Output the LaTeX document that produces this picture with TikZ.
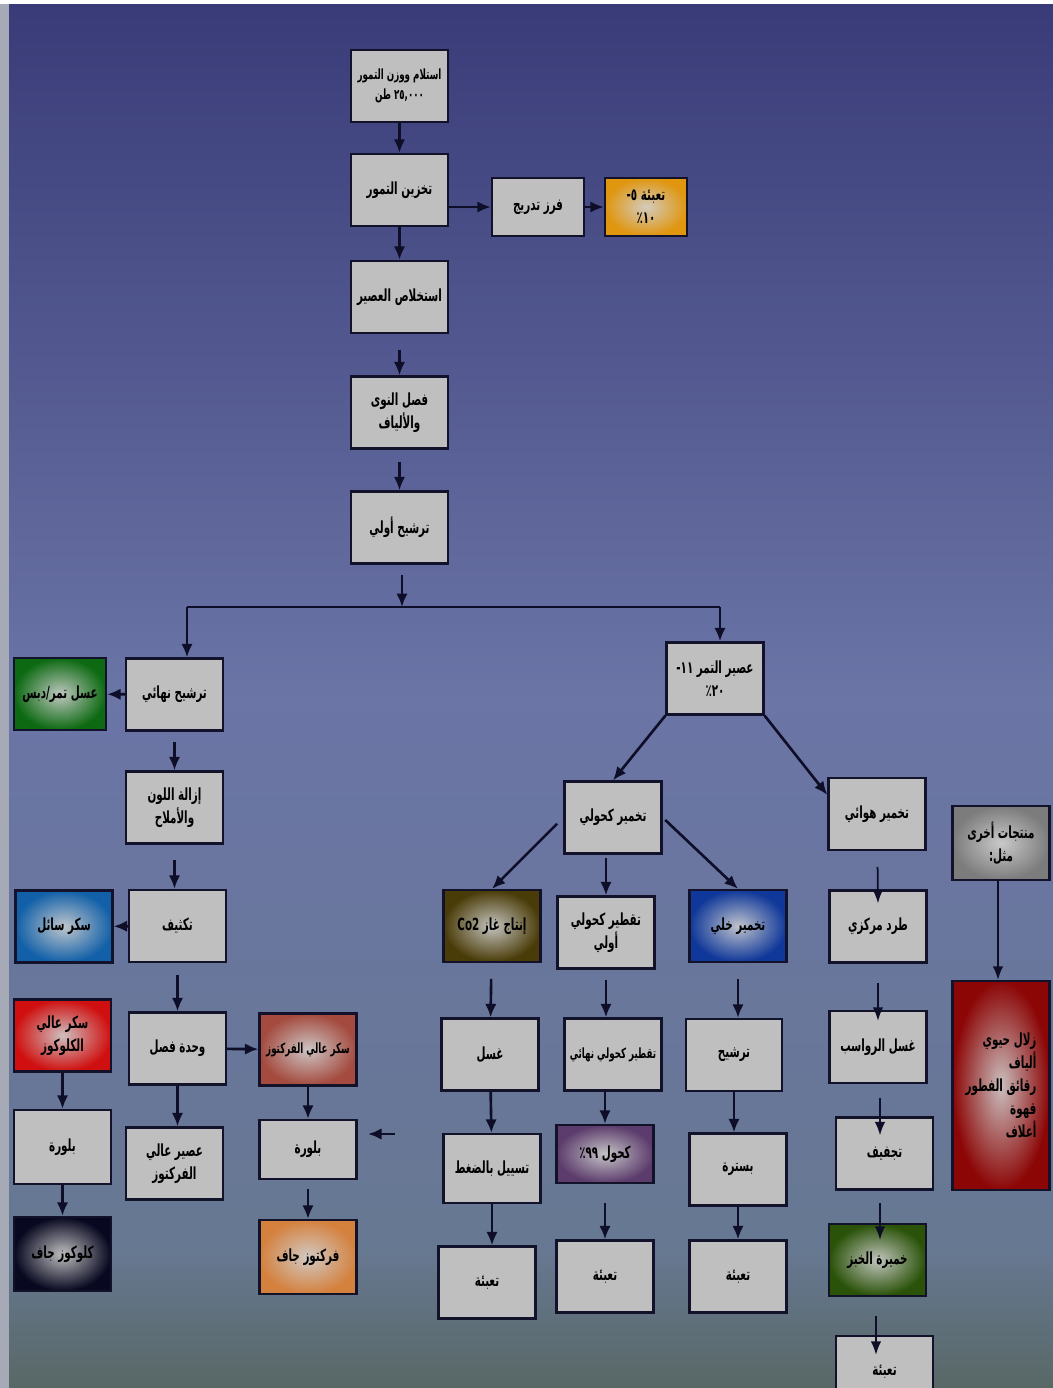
\documentclass[tikz,border=0pt]{standalone}
\usepackage{fontspec}
\usetikzlibrary{arrows.meta}
\newfontfamily\arabicfont[Script=Arabic,FakeStretch=0.62]{DejaVu Sans}
\TeXXeTstate=1
\newcommand{\ar}[1]{\beginR #1\endR}
\definecolor{bgtop}{HTML}{393B78}
\definecolor{bgmid}{HTML}{6B75A6}
\definecolor{bglow}{HTML}{677892}
\definecolor{bgend}{HTML}{586866}
\definecolor{stripc}{HTML}{A6AAB6}
\definecolor{boxc}{HTML}{BFBFBF}
\definecolor{edgec}{HTML}{12122A}
\definecolor{linec}{HTML}{0E0E28}
\definecolor{orangec}{HTML}{E0960F}
\definecolor{greenc}{HTML}{0D6A12}
\definecolor{bluec}{HTML}{1260A8}
\definecolor{redc}{HTML}{D01010}
\definecolor{darkc}{HTML}{080820}
\definecolor{rustc}{HTML}{A44A3E}
\definecolor{peachc}{HTML}{D4813E}
\definecolor{olivec}{HTML}{4A3C08}
\definecolor{navyc}{HTML}{10389A}
\definecolor{purplec}{HTML}{5C3C6C}
\definecolor{mossc}{HTML}{2A5208}
\definecolor{greyc}{HTML}{7C7C7C}
\definecolor{wine}{HTML}{8C0606}
\begin{document}
\begin{tikzpicture}[x=0.2mm,y=-0.2mm,
  box/.style={draw=edgec,line width=1.3pt,fill=boxc,minimum width=19.4mm,minimum height=14.4mm,
    inner sep=1pt,align=center,font=\arabicfont\bfseries\fontsize{9.5}{13}\selectfont},
  tint/.style={box,shading=radial,inner color=#1!12!boxc!75!white,outer color=#1},
  small/.style={font=\arabicfont\bfseries\fontsize{8}{11}\selectfont},
  flow/.style={-{Latex[length=2.7mm,width=2.3mm]},line width=1.5pt,draw=linec},
  slim/.style={-{Latex[length=2.7mm,width=2.1mm]},line width=1pt,draw=linec},
  link/.style={line width=1.5pt,draw=linec}]
\useasboundingbox (0,0) rectangle (1053,1388);
\shade[top color=bgtop,bottom color=bgmid] (0,0) rectangle (1053,700);
\shade[top color=bgmid,bottom color=bglow] (0,699) rectangle (1053,1250);
\shade[top color=bglow,bottom color=bgend] (0,1249) rectangle (1053,1388);
\fill[stripc] (0,0) rectangle (9,1388);
\fill[white] (0,0) rectangle (1053,4);

% main trunk
\node[box,small] (B1) at (399.5,86) {\ar{استلام ووزن التمور}\\\ar{٢٥,٠٠٠ طن}};
\node[box] (B2) at (399.5,190) {\ar{تخزين التمور}};
\node[box,minimum width=18.4mm,minimum height=11.6mm] (B3) at (538,207) {\ar{فرز تدريج}};
\node[tint=orangec,minimum width=16.4mm,minimum height=11.6mm] (B4) at (646,207) {\ar{تعبئة ٥-}\\\ar{١٠٪}};
\node[box] (B5) at (399.5,297) {\ar{استخلاص العصير}};
\node[box] (B6) at (399.5,412.5) {\ar{فصل النوى}\\\ar{والألياف}};
\node[box] (B7) at (399.5,527.5) {\ar{ترشيح أولي}};
\coordinate (J) at (402,607);
\coordinate (JL) at (187,607);
\coordinate (JR) at (720,607);

% syrup branch
\node[box] (L1) at (174.5,694.5) {\ar{ترشيح نهائي}};
\node[tint=greenc,minimum width=18.4mm] (L1g) at (60,694) {\ar{عسل تمر/دبس}};
\node[box] (L2) at (174.5,807.5) {\ar{إزالة اللون}\\\ar{والأملاح}};
\node[box] (L3) at (177.5,926) {\ar{تكثيف}};
\node[tint=bluec] (L3b) at (64,926.5) {\ar{سكر سائل}};
\node[box] (L4) at (177.5,1048.5) {\ar{وحدة فصل}};
\node[box] (L5) at (174.5,1163.5) {\ar{عصير عالي}\\\ar{الفركتوز}};
\node[tint=redc] (G1) at (62.5,1035.5) {\ar{سكر عالي}\\\ar{الكلوكوز}};
\node[box,minimum height=14.8mm] (G2) at (62.5,1147) {\ar{بلورة}};
\node[tint=darkc,minimum height=14.8mm] (G3) at (62.5,1254) {\ar{كلوكوز جاف}};
\node[tint=rustc,small] (F1) at (308,1049.5) {\ar{سكر عالي الفركتوز}};
\node[box,minimum height=11.8mm] (F2) at (308,1149.5) {\ar{بلورة}};
\node[tint=peachc,minimum height=14.8mm] (F3) at (308,1257) {\ar{فركتوز جاف}};
\coordinate (Fin) at (395,1134);
\coordinate (Fout) at (368,1134);

% juice branch
\node[box] (R1) at (715,678.5) {\ar{عصير التمر ١١-}\\\ar{٢٠٪}};
\node[box] (A1) at (613,817.5) {\ar{تخمير كحولي}};
\node[box] (H1) at (877,814) {\ar{تخمير هوائي}};
\node[tint=olivec] (C1) at (492,926) {\ar{إنتاج غاز \beginL Co2\endL}};
\node[box] (C2) at (606,932.5) {\ar{تقطير كحولي}\\\ar{أولي}};
\node[tint=navyc] (C3) at (738,926) {\ar{تخمير خلي}};
\node[box] (D1) at (490,1054.5) {\ar{غسل}};
\node[box,small] (D2) at (613,1054.5) {\ar{تقطير كحولي نهائي}};
\node[box,minimum width=19.2mm] (D3) at (734,1055) {\ar{ترشيح}};
\node[box,minimum height=13.8mm] (E1) at (492,1168.5) {\ar{تسييل بالضغط}};
\node[tint=purplec,minimum height=11.6mm] (E2) at (605,1154) {\ar{كحول ٩٩٪}};
\node[box] (E3) at (738,1169.5) {\ar{بسترة}};
\node[box] (P1) at (487,1282.5) {\ar{تعبئة}};
\node[box] (P2) at (605,1276.5) {\ar{تعبئة}};
\node[box] (P3) at (738,1276.5) {\ar{تعبئة}};
\node[box] (H2) at (878,926.5) {\ar{طرد مركزي}};
\node[box] (H3) at (878,1047) {\ar{غسل الرواسب}};
\node[box] (H4) at (884.5,1153.5) {\ar{تجفيف}};
\node[tint=mossc] (H5) at (877.5,1260) {\ar{خميرة الخبز}};
\node[box] (H6) at (884.5,1372) {\ar{تعبئة}};
\node[tint=greyc,minimum height=14.8mm] (O1) at (1001,843) {\ar{منتجات أخرى}\\\ar{مثل:}};
\node[tint=wine,minimum height=41.8mm,align=right] (O2) at (1001,1085.5)
  {\ar{زلال حيوي}\\\ar{ألياف}\\\ar{رقائق الفطور}\\\ar{قهوة}\\\ar{أعلاف}};

% trunk arrows
\draw[flow] (B1) -- (B2);
\draw[flow] (B2.east |- B3.west) -- (B3.west);
\draw[flow] (B3) -- (B4);
\draw[flow] (B2) -- (B5);
\draw[flow,shorten <=9pt] (B5) -- (B6);
\draw[flow,shorten <=7pt] (B6) -- (B7);
\draw[flow,shorten <=6pt] (B7.south -| J) -- (J);
\draw[link] (JL) -- (JR);
\draw[flow] (JL) -- (JL |- L1.north);
\draw[flow] (JR) -- (JR |- R1.north);

% syrup arrows
\draw[flow] (L1) -- (L1g);
\draw[flow,shorten <=6pt] (L1.south) -- (L1.south |- L2.north);
\draw[flow,shorten <=9pt] (L2.south) -- (L2.south |- L3.north);
\draw[flow] (L3) -- (L3b);
\draw[flow,shorten <=7pt] (L3) -- (L4);
\draw[flow] (L4) -- (F1);
\draw[flow] (L4.south) -- (L4.south |- L5.north);
\draw[flow] (G1) -- (G2);
\draw[flow] (G2) -- (G3);
\draw[flow] (F1) -- (F2);
\draw[flow,shorten <=5pt] (F2) -- (F3);
\draw[flow] (Fin) -- (Fout);

% juice arrows
\draw[flow] (R1.south west) -- (A1.north);
\draw[flow] (R1.south east) -- (H1.159);
\draw[flow,shorten <=5pt] (A1.west) -- (C1.north);
\draw[flow,shorten <=2pt] (A1.south -| C2.north) -- (C2.north);
\draw[flow,shorten <=2pt] (A1.east) -- (C3.north);
\draw[flow,shorten <=9pt] (C1) -- (D1);
\draw[flow,shorten <=6pt] (C2.south) -- (C2.south |- D2.north);
\draw[flow,shorten <=9pt] (C3.south) -- (C3.south |- D3.north);
\draw[flow] (D1) -- (E1);
\draw[flow] (D2.south -| E2) -- (E2);
\draw[flow] (D3.south) -- (D3.south |- E3.north);
\draw[flow] (E1.south) -- (E1.south |- P1.north);
\draw[flow,shorten <=11pt] (E2) -- (P2);
\draw[flow] (E3) -- (P3);
\draw[slim,shorten <=9pt] (H1) -- ([yshift=-2.8mm]H2.north);
\draw[slim,shorten <=11pt] (H2.south -| H3) -- ([yshift=-2.2mm]H3.north);
\draw[slim,shorten <=8pt] (H3.south -| 880,0) -- ([yshift=-3.8mm]H4.north -| 880,0);
\draw[slim,shorten <=7pt] (H4.south -| 880,0) -- ([yshift=-3.4mm]H5.north -| 880,0);
\draw[slim,shorten <=11pt] (H5.south -| 876,0) -- ([yshift=-4mm]H6.north -| 876,0);
\draw[slim] (O1.south -| 998,0) -- (O2.north -| 998,0);
\end{tikzpicture}
\end{document}
